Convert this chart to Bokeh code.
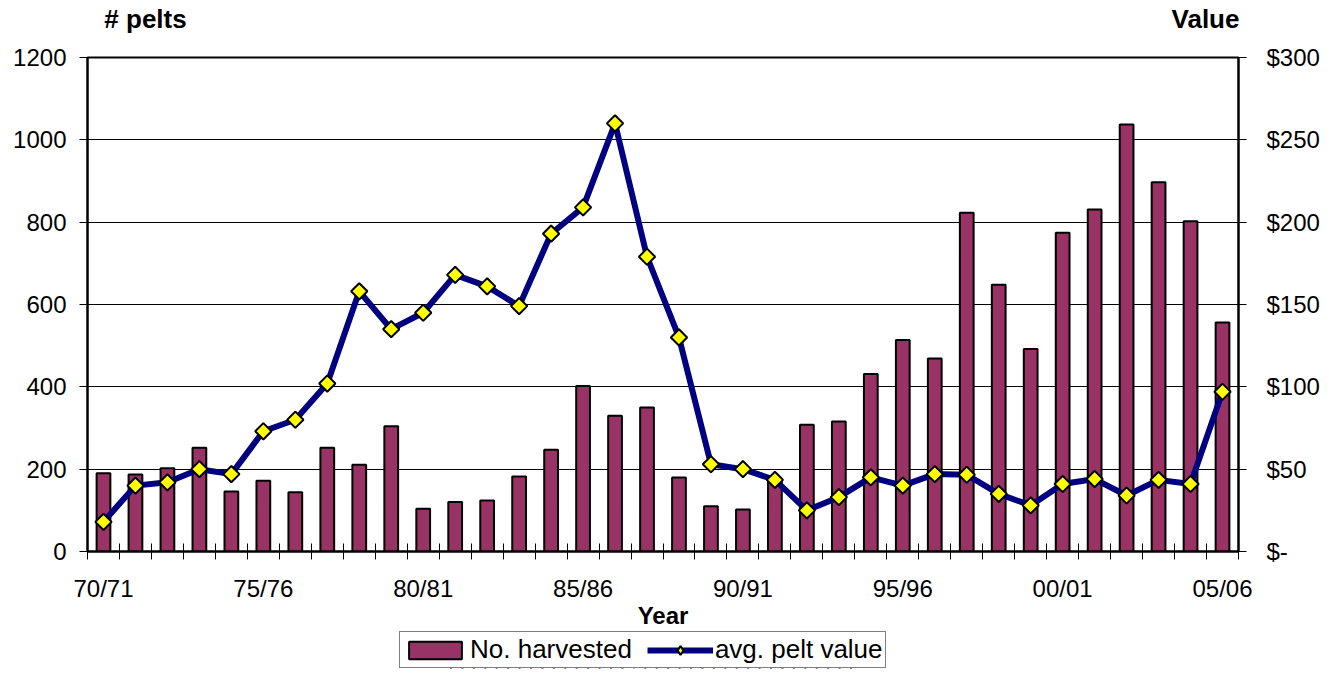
import math
from bokeh.plotting import figure
from bokeh.layouts import column
from bokeh.models import (Range1d, LinearAxis, FixedTicker, Legend, LegendItem,
                          ColumnDataSource)
from bokeh.embed import file_html
from bokeh.resources import INLINE

seasons = ["70/71", "71/72", "72/73", "73/74", "74/75", "75/76", "76/77", "77/78",
           "78/79", "79/80", "80/81", "81/82", "82/83", "83/84", "84/85", "85/86",
           "86/87", "87/88", "88/89", "89/90", "90/91", "91/92", "92/93", "93/94",
           "94/95", "95/96", "96/97", "97/98", "98/99", "99/00", "00/01", "01/02",
           "02/03", "03/04", "04/05", "05/06"]
harvested = [190, 187, 202, 252, 146, 172, 144, 252, 211, 304, 104, 120, 124, 182,
             247, 402, 330, 350, 180, 110, 102, 175, 308, 316, 431, 514, 469, 823,
             648, 492, 774, 831, 1037, 897, 802, 556]
pelt_value = [18, 40, 42, 50, 47, 73, 80, 102, 158, 135, 145, 168, 161, 149, 193,
              209, 260, 179, 130, 53, 50, 43.5, 25, 33, 45, 40, 47, 46.6, 35, 28,
              41, 44, 34, 43.5, 41, 97]
left_ticks = [0, 200, 400, 600, 800, 1000, 1200]
right_ticks = [0, 50, 100, 150, 200, 250, 300]
right_labels = ["$-", "$50", "$100", "$150", "$200", "$250", "$300"]
label_every = 5
left_title = "# pelts"
right_title = "Value"
x_title = "Year"
series_names = ["No. harvested", "avg. pelt value"]

FONT = "Liberation Sans"
BAR_COLOR = "#993366"
LINE_COLOR = "#000080"
MARK_COLOR = "#FFFF00"
W = 1325
FL, FR = 87, 87
MAIN_H, LEG_H = 631, 38

idx = list(range(len(seasons)))
src = ColumnDataSource(dict(x=idx, season=seasons, n=harvested, v=pelt_value))

p = figure(width=W, height=MAIN_H, output_backend="svg", toolbar_location=None,
           x_range=Range1d(-0.5, len(seasons) - 0.5), y_range=Range1d(0, 1200),
           min_border_left=FL, min_border_right=FR, min_border_top=57,
           min_border_bottom=MAIN_H - 551, background_fill_color="white",
           border_fill_color="white")
xa = p.xaxis[0]
ya = p.yaxis[0]
p.extra_y_ranges = {"value": Range1d(0, 300)}
p.extra_x_ranges = {"px": Range1d(FL, W - FR)}
p.outline_line_color = "black"
p.outline_line_width = 2

p.xgrid.visible = False
p.ygrid.ticker = FixedTicker(ticks=left_ticks)
p.ygrid.grid_line_color = "black"
p.ygrid.grid_line_width = 1

# left axis
ya.ticker = FixedTicker(ticks=left_ticks)
ya.axis_line_color = "black"
ya.axis_line_width = 2
ya.major_tick_in = 0
ya.major_tick_out = 8
ya.major_tick_line_color = "black"
ya.minor_tick_line_color = None
ya.major_label_standoff = 13
ya.major_label_text_font = FONT
ya.major_label_text_font_size = "24px"
ya.major_label_text_color = "black"

# right axis
ra = LinearAxis(y_range_name="value", ticker=FixedTicker(ticks=right_ticks))
ra.major_label_overrides = {t: l for t, l in zip(right_ticks, right_labels)}
ra.axis_line_color = "black"
ra.axis_line_width = 2
ra.major_tick_in = 0
ra.major_tick_out = 8
ra.major_tick_line_color = "black"
ra.minor_tick_line_color = None
ra.major_label_standoff = 20
ra.major_label_text_font = FONT
ra.major_label_text_font_size = "24px"
ra.major_label_text_color = "black"
p.add_layout(ra, "right")

# bottom axis
major = idx[::label_every]
xa.ticker = FixedTicker(ticks=major,
                        minor_ticks=[i - 0.5 for i in range(len(seasons) + 1)])
xa.major_label_overrides = {i: seasons[i] for i in major}
xa.axis_line_color = "black"
xa.axis_line_width = 2
xa.major_tick_in = 0
xa.major_tick_out = 0
xa.minor_tick_in = 8
xa.minor_tick_out = 8
xa.minor_tick_line_color = "black"
xa.minor_tick_line_width = 1
xa.major_label_standoff = 15
xa.major_label_text_font = FONT
xa.major_label_text_font_size = "24px"
xa.major_label_text_color = "black"
xa.axis_label = x_title
xa.axis_label_text_font = FONT
xa.axis_label_text_font_style = "bold"
xa.axis_label_text_font_size = "24px"
xa.axis_label_text_color = "black"
xa.axis_label_standoff = -3

# top "axis" carrying the two axis titles (no line, no ticks)
title_pos = [145, 1205]
ta = LinearAxis(x_range_name="px", ticker=FixedTicker(ticks=title_pos, minor_ticks=[]))
ta.major_label_overrides = {title_pos[0]: left_title, title_pos[1]: right_title}
ta.axis_line_color = None
ta.major_tick_line_color = None
ta.minor_tick_line_color = None
ta.major_tick_in = 0
ta.major_tick_out = 0
ta.major_label_standoff = 24
ta.major_label_text_font = FONT
ta.major_label_text_font_style = "bold"
ta.major_label_text_font_size = "26px"
ta.major_label_text_color = "black"
p.add_layout(ta, "above")

p.vbar(x="x", top="n", width=0.43, source=src, fill_color=BAR_COLOR,
       line_color="black", line_width=2)
p.line(x="x", y="v", source=src, y_range_name="value", line_color=LINE_COLOR,
       line_width=6, line_join="round")
p.scatter(x="x", y="v", source=src, y_range_name="value", marker="square",
          angle=math.pi / 4, size=11.5, fill_color=MARK_COLOR,
          line_color="black", line_width=2)

# ---- legend strip: the same series, squeezed behind the opaque legend box ----
lg = figure(width=W, height=LEG_H, output_backend="svg", toolbar_location=None,
            x_range=Range1d(-31.8, 68.9), y_range=Range1d(-20000, 80000),
            x_axis_location=None, y_axis_location=None,
            min_border_left=FL, min_border_right=FR, min_border_top=0,
            min_border_bottom=0, outline_line_color=None,
            background_fill_color="white", border_fill_color="white")
lg.xgrid.visible = False
lg.ygrid.visible = False
r_bar = lg.vbar(x="x", top="n", width=0.43, source=src, fill_color=BAR_COLOR,
                line_color="black", line_width=2)
r_line = lg.line(x="x", y="v", source=src, line_color=LINE_COLOR, line_width=6)
r_pts = lg.scatter(x="x", y="v", source=src, marker="diamond", size=12,
                   fill_color=MARK_COLOR, line_color="black", line_width=2)
legend = Legend(items=[LegendItem(label=series_names[0], renderers=[r_bar]),
                       LegendItem(label=series_names[1], renderers=[r_line, r_pts])],
                orientation="horizontal", location=(312, 1), margin=0,
                padding=2, spacing=15, label_standoff=2, glyph_width=66,
                glyph_height=22, border_line_color="black", border_line_width=1,
                background_fill_color="white", background_fill_alpha=1.0,
                label_text_font=FONT, label_text_font_size="26px",
                label_text_color="black")
lg.add_layout(legend, "center")

open("out.html", "w").write(file_html(column(p, lg, spacing=0), INLINE))
